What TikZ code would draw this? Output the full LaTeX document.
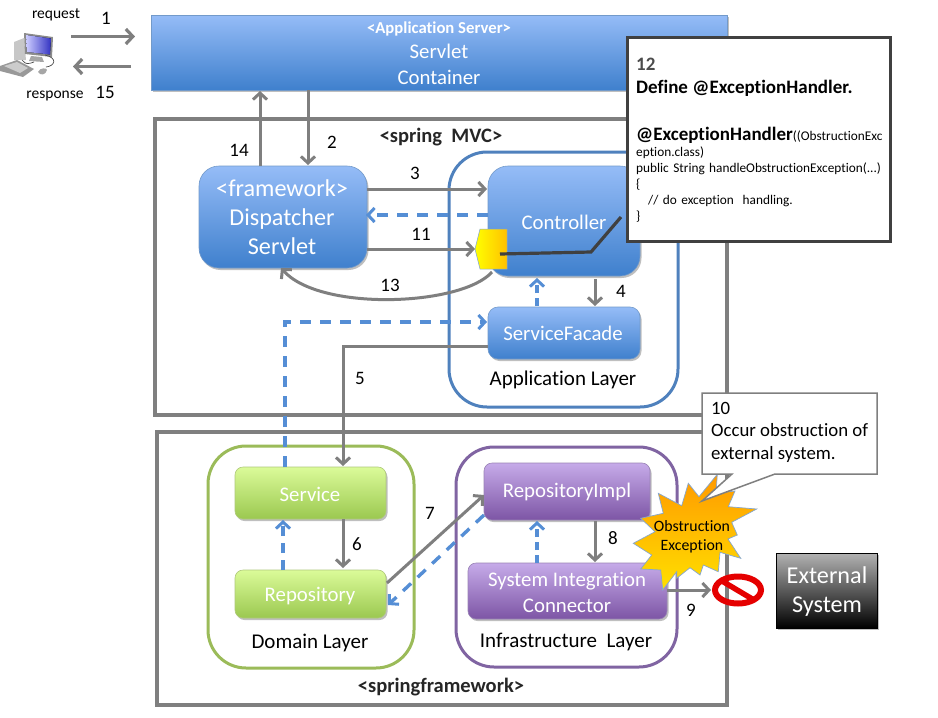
\documentclass[tikz,border=0pt]{standalone}
\usepackage{fontspec}
\setmainfont[Ligatures=NoCommon]{Carlito}
\usetikzlibrary{arrows.meta,shadows,calc}
\definecolor{arr}{HTML}{7F7F7F}
\definecolor{dashb}{HTML}{558ED5}
\definecolor{bluet}{HTML}{95BCF7}
\definecolor{blueb}{HTML}{3F80CD}
\definecolor{greent}{HTML}{DBFB99}
\definecolor{greenb}{HTML}{9BC850}
\definecolor{purt}{HTML}{C6ABE9}
\definecolor{purb}{HTML}{7D55A5}
\definecolor{bluel}{HTML}{4F81BD}
\definecolor{greenl}{HTML}{9BBB59}
\definecolor{purl}{HTML}{8064A2}
\definecolor{hexr}{HTML}{FFC000}
\definecolor{start}{HTML}{FF9900}
\definecolor{starb}{HTML}{FFE000}
\tikzset{
  softshadow/.style={drop shadow={shadow xshift=1.5pt,shadow yshift=-2pt,fill=black,opacity=.25}},
  blockbase/.style={draw=#1,line width=.6pt,align=center,text=white,inner sep=0pt,outer sep=0pt,softshadow},
  blueblock/.style={blockbase=bluel!80,top color=bluet,bottom color=blueb},
  greenblock/.style={blockbase=greenl!80,top color=greent,bottom color=greenb},
  purpleblock/.style={blockbase=purl!80,top color=purt,bottom color=purb},
  blocktxt/.style={text=white,align=center,inner sep=0pt,font=\fontsize{20.8}{26}\selectfont},
  bigtxt/.style={text=white,align=center,inner sep=0pt,font=\fontsize{24.2}{29}\selectfont},
  framebox/.style={draw=arr,line width=4pt,fill=white,outer sep=0pt},
  layerbox/.style={line width=3pt,rounded corners=38pt},
  gline/.style={draw=arr,line width=3.6pt,-{Straight Barb[length=7pt,width=15pt,line width=3.2pt]}},
  gshort/.style={draw=arr,line width=3pt,-{Straight Barb[length=6.5pt,width=14pt,line width=3pt]}},
  dline/.style={draw=dashb,line width=3.4pt,dash pattern=on 11pt off 9pt,-{Straight Barb[length=6.5pt,width=14pt,line width=3pt]}},
  lbl/.style={text=black,font=\fontsize{19}{20}\selectfont,inner sep=0pt},
  llbl/.style={text=black,font=\fontsize{21}{24}\selectfont,inner sep=0pt},
  slbl/.style={text=black,font=\fontsize{15.5}{17}\selectfont,inner sep=0pt},
  tag/.style={text=black!85,font=\bfseries\fontsize{20.5}{24}\selectfont,inner sep=0pt},
  x=1pt,y=-1pt
}
\begin{document}
\begin{tikzpicture}
\useasboundingbox (0,0) rectangle (938,718);
% frames
\node[framebox,minimum width=572pt,minimum height=296pt,anchor=north west] (mvc) at (155,119) {};
\node[framebox,minimum width=570pt,minimum height=273pt,anchor=north west] (sf) at (157,432) {};
% server
\node[blueblock,minimum width=576pt,minimum height=75pt,anchor=north west] (server) at (151,15) {};
\node[text=white,font=\bfseries\fontsize{16.7}{18}\selectfont,inner sep=0pt] (servertag) at (439,29) {<Application Server>};
\node[blocktxt] (servername) at (439,64) {Servlet\\Container};
% layers
\draw[layerbox,draw=bluel,fill=white] (449,152) rectangle (678,407);
\draw[layerbox,draw=greenl,fill=white] (208,446) rectangle (414,668);
\draw[layerbox,draw=purl,fill=white] (456,447) rectangle (677,667);
% blocks
\node[blueblock,rounded corners=20pt,minimum width=168pt,minimum height=102pt,anchor=north west] (ds) at (199,166) {};
\node[bigtxt] (dstxt) at (282,217) {<framework>\\Dispatcher\\Servlet};
\node[blueblock,rounded corners=20pt,minimum width=152pt,minimum height=110pt,anchor=north west] (ctrl) at (488,166) {};
\node[blocktxt] (ctrltxt) at (564,222) {Controller};
\node[blueblock,rounded corners=10pt,minimum width=152pt,minimum height=52pt,anchor=north west] (sfac) at (488,307) {};
\node[blocktxt] (sfactxt) at (563,333) {ServiceFacade};
\node[greenblock,rounded corners=8pt,minimum width=151pt,minimum height=52pt,anchor=north west] (svc) at (235,467) {};
\node[blocktxt] (svctxt) at (310,494) {Service};
\node[greenblock,rounded corners=8pt,minimum width=151pt,minimum height=48pt,anchor=north west] (repo) at (235,570) {};
\node[blocktxt] (repotxt) at (310,596) {Repository};
\node[purpleblock,rounded corners=8pt,minimum width=166pt,minimum height=57pt,anchor=north west] (impl) at (484,463) {};
\node[blocktxt] (impltxt) at (567,492) {RepositoryImpl};
\node[purpleblock,rounded corners=8pt,minimum width=199pt,minimum height=56pt,anchor=north west] (sic) at (468,563) {};
\node[blocktxt] (sictxt) at (567,592) {System Integration\\Connector};
\node[blockbase=black,top color=black!30,bottom color=black,minimum width=101pt,minimum height=75pt,anchor=north west] (ext) at (776,553) {};
\node[bigtxt] (exttxt) at (827,592) {External\\System};
% layer and frame texts
\node[llbl] (al) at (563,380) {Application Layer};
\node[llbl] (dl) at (310,643) {Domain Layer};
\node[llbl] (il) at (566,642) {Infrastructure~ Layer};
\node[tag] (mvctag) at (441,137) {<spring~ MVC>};
\node[tag] (sftag) at (441,687) {<springframework>};
% named ends
\coordinate (pcr) at (71,36.5);
\coordinate (pcl) at (73,66.5);
\path (server.west) ++(-16,-16) coordinate (scl);
\path (server.west) ++(-20,14) coordinate (scr);
\coordinate (hexw) at (475,249);
\coordinate (stop) at (711,590);
% connectors
\draw[gline] (pcr) -- (scl |- pcr);
\draw[gline] (scr |- pcl) -- (pcl);
\draw[gshort] ($(ds.north west)+(61,0)$) -- ($(server.south west)+(109,1)$);
\draw[gshort] ($(server.south west)+(157,0)$) -- ($(ds.north west)+(109,-1)$);
\draw[gshort] ($(ds.north east)+(0,23)$) -- ($(ctrl.north west)+(-1,23)$);
\draw[dline] ($(ctrl.north west)+(0,49)$) -- ($(ds.north east)+(-1,49)$);
\draw[gshort] ($(ds.north east)+(0,83)$) -- (hexw);
\draw[gshort] ($(ctrl.south west)+(4,-4)$) .. controls (462,306) and (320,312) .. ($(ds.south west)+(82,0)$);
\draw[gshort] ($(ctrl.south west)+(107,3)$) -- ($(sfac.north west)+(107,-1)$);
\draw[dline,dash pattern=on 8pt off 5pt] ($(sfac.north west)+(49,-1)$) -- ($(ctrl.south west)+(49,2)$);
\draw[dline] ($(svc.north west)+(50,0)$) -- ($(svc.north west)+(50,-145)$) -- ($(sfac.north west)+(-1,15)$);
\draw[gshort] ($(sfac.north west)+(0,39)$) -- ($(svc.north west)+(108,-121)$) -- ($(svc.north west)+(108,-1)$);
\draw[gshort] ($(svc.south west)+(108,0)$) -- ($(repo.north west)+(108,-2)$);
\draw[dline,dash pattern=on 10pt off 7pt] ($(repo.north west)+(48,0)$) -- ($(svc.south west)+(48,1)$);
\draw[gshort] ($(repo.north east)+(1,13)$) -- ($(impl.north west)+(0,32)$);
\draw[dline] ($(impl.north west)+(0,52)$) -- ($(repo.north east)+(2,35)$);
\draw[gshort] ($(impl.south west)+(111,1)$) -- ($(sic.north west)+(127,-1)$);
\draw[dline,dash pattern=on 8pt off 5pt] ($(sic.north west)+(69,0)$) -- ($(impl.south west)+(53,1)$);
\draw[gshort] ($(sic.north east)+(0,27)$) -- (stop);
% numbers
\node[lbl] (n1) at (106,18) {1};
\node[lbl] (n15) at (105,92) {15};
\node[lbl] (n14) at (239,150) {14};
\node[lbl] (n2) at (332,142) {2};
\node[lbl] (n3) at (415,173) {3};
\node[lbl] (n11) at (421,234) {11};
\node[lbl] (n13) at (390,285) {13};
\node[lbl] (n4) at (621,291) {4};
\node[lbl] (n5) at (360,378) {5};
\node[lbl] (n6) at (357,544) {6};
\node[lbl] (n7) at (430,513) {7};
\node[lbl] (n8) at (613,538) {8};
\node[lbl] (n9) at (691,610) {9};
\node[slbl] (req) at (56,15) {request};
\node[slbl] (resp) at (55,96) {response};
% computer
\fill[black!22] (14,42) -- (24,38) -- (26,60) -- (14,60) -- cycle;
\fill[black!45] (24,33) -- (53,37) -- (52,57) -- (25,54) -- cycle;
\fill[left color=blue!20!white,right color=blue!70!black!80] (26,35) -- (51,38.5) -- (50,54.5) -- (27,52) -- cycle;
\fill[black!35] (31,56) -- (42,57) -- (44,62) -- (29,61) -- cycle;
\draw[black!70,line width=.7pt] (22,60) .. controls (26,65) and (28,64) .. (34,62);
\draw[black!70,line width=.7pt] (45,55) .. controls (58,58) and (55,66) .. (46,67);
\fill[black!40] (0,66) -- (17,60) -- (34,69) -- (23,77) -- (0,71) -- cycle;
\fill[black!20] (4,66) -- (17,62) -- (28,68) -- (20,73) -- cycle;
\fill[black!35] (38,72) .. controls (40,67) and (47,68) .. (47,70) .. controls (46,75) and (40,76) .. (38,72) -- cycle;
% callout 12 and hexagon
\node[draw=black!75,line width=3pt,fill=white,minimum width=263pt,minimum height=204pt,anchor=north west,outer sep=0pt,softshadow] (c12) at (627,37) {};
\node[inner sep=0pt,anchor=north west,text width=252pt,align=left,text=black,font=\fontsize{13.3}{16}\selectfont] (c12t) at (636,58) {%
{\bfseries\fontsize{19}{23}\selectfont\textcolor{black!70}{12}\\Define @ExceptionHandler.\\[30pt]@ExceptionHandler}{\fontsize{13.3}{16}\selectfont((ObstructionExc}\\eption.class)\\public String handleObstructionException(...)\\\{\\\hspace*{12pt}// do exception~ handling.\\\}};
\draw[draw=bluel!70,left color=yellow,right color=hexr,line width=.5pt] (480,229) -- (507,229) -- (507,269) -- (480,269) -- (hexw) -- cycle;
\coordinate (hx) at (500,254);
\coordinate (lk) at (591,252);
\draw[draw=black!75,line width=3.2pt] (hx) -- (lk) -- ($(c12.south west)+(-6,-24)$);
% starburst
\draw[draw=bluel!70,line width=.7pt,top color=start,bottom color=starb]
(688.3,483.3) -- (699,496.7) -- (717.3,474.3) -- (716,493.3) -- (735,491) -- (728.3,506.7) -- (756.7,509) -- (731.7,522.3) -- (737.3,535) -- (728,539) -- (740.7,558.3) -- (720,552.3) -- (718.3,571.7) -- (703.3,565) -- (700,575) -- (690,567.7) -- (676.7,578.3) -- (676.7,571.7) -- (662.7,590) -- (660.7,570) -- (640.7,569) -- (651.7,555) -- (633.3,543.3) -- (655,531.7) -- (640.7,518.3) -- (663.3,513.3) -- (658.3,493.3) -- (681.7,505.7) -- cycle;
\node[inner sep=0pt,align=center,text=black,font=\fontsize{15.8}{19}\selectfont] (obs) at (692,537) {Obstruction\\Exception};
% no entry
\draw[red!90!black,line width=6pt] (738,590) ellipse (23pt and 13.5pt);
\draw[red!90!black,line width=5.5pt] (722,581) -- (754,600);
% callout 10
\draw[draw=arr,line width=1.5pt,fill=white] (702,393) -- (877,393) -- (877,474) -- (775,474) -- (702,501) -- (732,474) -- (702,474) -- cycle;
\node[inner sep=0pt,anchor=north west,align=left,text=black,font=\fontsize{18.8}{22.5}\selectfont] (c10) at (711,402) {10\\Occur obstruction of\\external system.};
\end{tikzpicture}
\end{document}
